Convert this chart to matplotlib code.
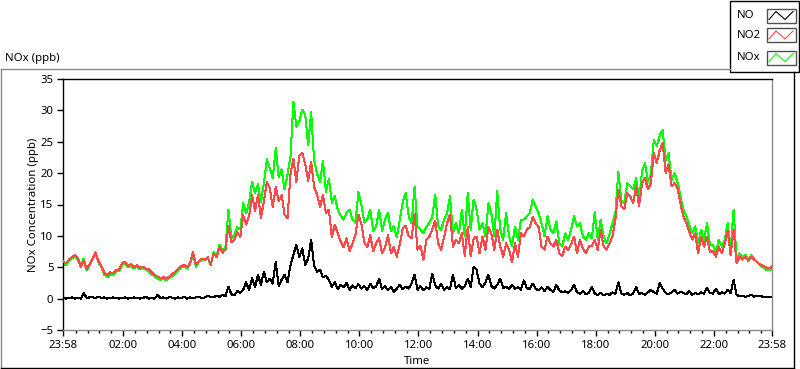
import matplotlib
matplotlib.use('Agg')
import matplotlib.pyplot as plt
from matplotlib.patches import Rectangle
import numpy as np

plt.rcParams['font.family'] = ['Noto Sans', 'DejaVu Sans']

# samples every 6 min, first one at 23:58 of the day before (minute -2)
START_MIN = -2
STEP_MIN = 6

# one row per hour (10 samples), last value is 23:58
no_ppb = [
    0.1, 0.0, 0.1, 0.2, 0.0, 0.1, 0.0, 0.9, 0.1, 0.2,
    0.2, 0.1, 0.3, 0.1, 0.2, 0.0, 0.1, 0.2, 0.1, 0.0,
    0.1, 0.2, 0.0, 0.1, 0.2, 0.1, 0.0, 0.1, 0.3, 0.0,
    0.1, 0.0, 0.6, 0.1, 0.2, 0.0, 0.3, 0.1, 0.0, 0.2,
    0.1, 0.3, 0.0, 0.2, 0.1, 0.2, 0.3, 0.1, 0.2, 0.4,
    0.3, 0.2, 0.5, 0.3, 0.6, 0.4, 1.9, 0.7, 0.5, 1.2,
    0.9, 1.4, 2.6, 1.3, 3.3, 1.8, 3.8, 2.2, 4.3, 2.6,
    3.2, 2.4, 5.9, 2.0, 3.0, 3.8, 2.6, 5.3, 7.0, 8.6,
    6.6, 8.0, 5.4, 6.4, 9.4, 5.3, 4.3, 4.6, 3.4, 3.6,
    3.0, 1.9, 2.6, 1.5, 2.2, 1.8, 2.5, 1.4, 2.1, 1.7,
    2.3, 1.6, 2.0, 1.4, 2.4, 1.7, 1.9, 3.2, 1.5, 2.0,
    1.3, 1.9, 1.1, 1.6, 2.2, 1.5, 1.9, 1.6, 2.4, 3.8,
    1.4, 2.0, 1.3, 1.8, 1.5, 4.0, 2.1, 1.6, 2.3, 1.4,
    1.8, 1.5, 3.8, 1.7, 2.2, 1.6, 2.0, 3.2, 1.9, 5.1,
    4.6, 2.4, 1.8, 2.6, 3.8, 2.0, 1.6, 2.2, 3.2, 1.7,
    1.9, 1.5, 2.2, 1.6, 1.8, 1.4, 2.9, 1.7, 1.5, 2.4,
    1.6, 1.3, 1.8, 1.2, 1.9, 1.4, 1.1, 2.2, 1.3, 1.0,
    1.2, 0.9, 1.4, 2.2, 1.0, 0.8, 1.2, 0.7, 0.9, 1.9,
    0.8, 0.6, 0.9, 0.5, 0.8, 0.6, 1.0, 0.7, 2.6, 0.8,
    0.6, 0.9, 0.5, 0.8, 1.9, 0.7, 0.9, 0.6, 1.0, 1.4,
    1.0, 0.8, 2.5, 1.6, 0.9, 0.7, 1.0, 1.4, 0.8, 1.1,
    0.9, 0.7, 1.2, 0.6, 0.9, 0.7, 1.0, 0.8, 1.7, 0.9,
    0.8, 1.6, 0.7, 1.0, 0.8, 1.4, 0.9, 3.0, 0.6, 0.4,
    0.5, 0.3, 0.4, 0.6, 0.3, 0.5, 0.4, 0.3, 0.3, 0.2,
    0.2]

no2_ppb = [
    6.0, 5.6, 6.2, 6.6, 6.9, 6.5, 5.1, 6.0, 4.7, 5.5,
    6.4, 7.4, 6.0, 5.2, 4.1, 3.7, 4.2, 4.0, 4.5, 4.6,
    5.6, 5.9, 5.2, 5.5, 5.0, 5.3, 4.9, 5.1, 4.8, 4.7,
    4.2, 3.8, 3.5, 3.3, 3.4, 3.2, 3.5, 3.9, 4.3, 4.8,
    5.2, 5.4, 5.0, 5.6, 7.4, 5.3, 6.0, 6.4, 6.2, 6.6,
    5.4, 7.2, 6.6, 8.2, 7.3, 7.8, 11.6, 9.0, 9.4, 10.6,
    9.8, 13.3, 11.8, 13.2, 16.5, 14.0, 16.6, 12.9, 15.5, 18.6,
    17.6, 14.6, 17.8, 15.6, 16.5, 13.4, 12.8, 19.8, 22.3, 18.6,
    22.8, 23.2, 21.4, 18.8, 21.8, 17.8, 16.6, 14.6, 16.5, 13.6,
    14.2, 9.8, 11.8, 10.4, 9.1, 8.2, 9.6, 7.6, 8.8, 10.2,
    13.4, 11.9, 9.0, 8.2, 10.1, 7.6, 8.8, 9.6, 7.2, 8.2,
    10.1, 7.2, 8.2, 6.7, 8.6, 11.2, 11.6, 10.0, 9.6, 13.5,
    7.8, 8.4, 6.2, 9.4, 9.9, 11.0, 12.4, 8.8, 7.8, 9.8,
    12.0, 13.4, 8.3, 9.4, 8.8, 10.4, 6.8, 11.4, 6.8, 9.6,
    9.9, 7.2, 9.9, 7.8, 11.4, 10.4, 7.8, 11.0, 8.3, 6.7,
    8.8, 7.8, 5.8, 8.8, 6.7, 10.4, 9.9, 11.0, 11.4, 13.0,
    12.0, 11.4, 8.3, 7.8, 9.9, 8.8, 8.3, 9.4, 7.2, 6.8,
    8.3, 7.8, 8.6, 9.9, 7.2, 9.4, 8.0, 7.2, 8.3, 8.4,
    9.4, 7.8, 11.0, 8.3, 7.8, 8.8, 9.9, 12.6, 17.3, 14.7,
    14.2, 16.8, 16.3, 15.2, 17.9, 14.7, 18.4, 19.2, 17.4, 18.4,
    23.2, 21.6, 23.7, 24.8, 20.0, 21.4, 17.9, 18.4, 17.6, 15.2,
    13.1, 12.0, 10.6, 9.4, 10.4, 7.2, 9.9, 8.3, 9.9, 7.4,
    7.6, 6.7, 8.3, 7.2, 8.8, 10.8, 6.9, 11.0, 5.6, 6.7,
    6.2, 6.7, 6.0, 6.7, 6.2, 5.8, 5.4, 5.2, 5.0, 4.8,
    5.2]

nox_ppb = [
    5.8, 5.3, 6.0, 6.4, 6.7, 6.3, 5.0, 6.4, 4.5, 5.3,
    6.2, 7.2, 5.8, 5.0, 3.8, 3.4, 3.9, 3.8, 4.3, 4.4,
    5.4, 5.7, 5.0, 5.3, 4.8, 5.1, 4.7, 4.9, 4.6, 4.4,
    3.9, 3.5, 3.2, 3.0, 3.1, 3.0, 3.3, 3.6, 4.0, 4.5,
    5.0, 5.2, 4.8, 5.4, 7.2, 5.1, 5.8, 6.2, 6.1, 6.5,
    5.4, 7.4, 6.8, 8.6, 7.6, 8.2, 14.2, 9.6, 10.2, 11.4,
    11.0, 15.2, 13.6, 15.4, 18.6, 16.8, 18.2, 15.4, 18.4, 22.2,
    20.8, 19.2, 24.0, 19.4, 20.6, 17.4, 19.8, 22.6, 31.4, 27.4,
    28.3, 30.1, 29.3, 24.4, 29.8, 22.0, 19.9, 18.6, 22.0, 17.0,
    19.1, 15.3, 16.3, 14.2, 13.2, 12.6, 13.7, 14.2, 12.6, 12.1,
    17.0, 15.0, 12.1, 12.6, 14.2, 10.8, 11.5, 14.2, 10.8, 12.6,
    13.7, 10.8, 11.5, 9.8, 12.6, 15.4, 16.8, 13.2, 12.0, 17.8,
    11.5, 11.0, 10.4, 11.5, 12.0, 13.1, 16.6, 11.5, 11.0, 12.6,
    13.6, 16.3, 10.4, 12.0, 10.4, 14.2, 9.9, 16.8, 11.0, 15.8,
    14.2, 11.0, 12.0, 9.9, 15.2, 13.6, 9.9, 17.1, 11.0, 9.4,
    13.6, 9.9, 8.4, 11.5, 9.4, 12.6, 12.6, 13.1, 13.6, 15.8,
    14.7, 13.6, 12.0, 9.9, 13.1, 11.0, 10.4, 12.3, 8.8, 8.3,
    10.4, 9.4, 11.0, 13.1, 11.5, 12.0, 9.9, 9.4, 10.4, 9.6,
    13.8, 9.4, 12.6, 9.9, 8.8, 10.2, 12.0, 13.8, 20.2, 15.6,
    15.2, 18.4, 17.9, 17.4, 19.2, 15.6, 20.3, 21.6, 18.6, 20.0,
    25.3, 24.3, 26.0, 26.9, 22.0, 23.2, 18.9, 20.0, 18.6, 16.3,
    14.2, 13.1, 11.8, 10.4, 11.5, 8.8, 11.0, 9.4, 12.0, 8.6,
    8.6, 7.4, 9.4, 8.3, 9.4, 12.0, 8.0, 14.2, 6.4, 7.2,
    6.6, 7.0, 6.2, 6.9, 6.3, 5.8, 5.3, 5.0, 4.6, 4.5,
    4.8]

series_names = ['NO', 'NO2', 'NOx']
series_colors = ['#000000', '#ff4848', '#00ff00']

tick_minutes = [-2, 120, 240, 360, 480, 600, 720, 840, 960, 1080, 1200, 1320, 1438]
tick_labels = ['23:58', '02:00', '04:00', '06:00', '08:00', '10:00', '12:00',
               '14:00', '16:00', '18:00', '20:00', '22:00', '23:58']

t = START_MIN + STEP_MIN * np.arange(len(no_ppb))

fig = plt.figure(figsize=(8.0, 3.69), dpi=100)
fig.patch.set_facecolor('white')
ax = fig.add_axes([63 / 800, 39 / 369, 709 / 800, 251 / 369])

# red over green, black last; crisp 1px lines like the instrument plot
ax.plot(t, nox_ppb, color=series_colors[2], lw=0.72, zorder=2, antialiased=False)
ax.plot(t, no2_ppb, color=series_colors[1], lw=0.72, zorder=3, antialiased=False)
ax.plot(t, no_ppb, color=series_colors[0], lw=0.72, zorder=4, antialiased=False)

ax.set_xlim(-2, 1438)
ax.set_ylim(-5, 35)
ax.set_yticks(np.arange(-5, 36, 5))
ax.set_xticks(tick_minutes)
ax.set_xticklabels(tick_labels)
minor = [m for m in range(0, 1438, 24) if m % 120 != 0]
ax.set_xticks(minor, minor=True)
ax.tick_params(axis='both', which='major', length=4, width=1, direction='out',
               labelsize=8.2, pad=3)
ax.tick_params(axis='x', which='minor', length=2.5, width=1, direction='out')
ax.spines['left'].set_color('black')
ax.spines['top'].set_color('black')
ax.spines['bottom'].set_color('#8a8a8a')
ax.spines['right'].set_color('#8a8a8a')
for s in ax.spines.values():
    s.set_linewidth(1.0)
ax.set_xlabel('Time', fontsize=8.2, labelpad=4)
ax.set_ylabel('NOx Concentration (ppb)', fontsize=8.2, labelpad=1)

# panel frame, title and legend drawn in pixel coords
frame = fig.add_axes([0, 0, 1, 1], zorder=5)
frame.set_xlim(0, 800)
frame.set_ylim(369, 0)
frame.axis('off')
frame.patch.set_alpha(0)
frame.plot([1, 730], [69, 69], color='#8a8a8a', lw=1.0)
frame.plot([1, 1], [69, 368], color='#8a8a8a', lw=1.0)
frame.plot([794, 794], [72, 368], color='black', lw=1.0)
frame.plot([1, 794], [367.5, 367.5], color='black', lw=1.0)
frame.text(5, 58, 'NOx (ppb)', fontsize=8.2, va='center', ha='left')

frame.add_patch(Rectangle((730, 0.5), 69, 71.5, fill=False, ec='black', lw=1.0))
legend_y = [15.5, 35, 57.5]
for name, color, yc in zip(series_names, series_colors, legend_y):
    frame.text(737, yc, name, fontsize=8.2, va='center', ha='left')
    frame.add_patch(Rectangle((767, yc - 7), 28.5, 14, fill=False, ec='#505050', lw=1.0))
    frame.plot([769, 776, 785, 793], [yc + 4, yc - 4, yc + 4, yc - 4], color=color, lw=0.8)

fig.savefig('out.png', dpi=100)
